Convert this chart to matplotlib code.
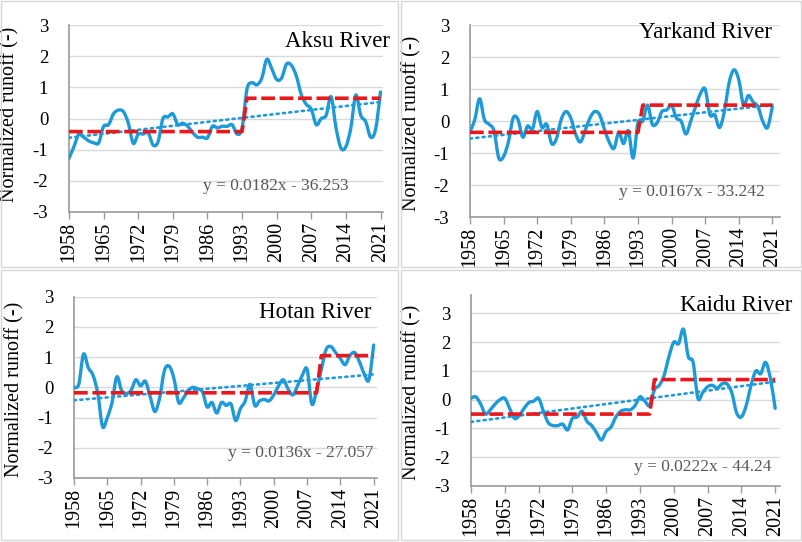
import numpy as np
import matplotlib
matplotlib.use('Agg')
import matplotlib.pyplot as plt
from matplotlib.path import Path
from matplotlib.patches import PathPatch, Rectangle

# annual normalized runoff, 1958-2021
years = np.arange(1958, 2022)

aksu = [-1.28, -0.9, -0.5, -0.6, -0.72, -0.78, -0.78, -0.25, -0.2, 0.15,
        0.27, 0.22, -0.15, -0.8, -0.5, -0.5, -0.45, -0.85, -0.75, 0.0,
        0.05, 0.15, -0.2, -0.15, -0.25, -0.45, -0.6, -0.6, -0.62, -0.25,
        -0.3, -0.25, -0.25, -0.2, -0.5, -0.3, 0.95, 1.15, 1.08, 1.3,
        1.9, 1.6, 1.25, 1.3, 1.75, 1.7, 1.35, 0.75, 0.45, 0.3,
        -0.2, 0.0, 0.1, 0.7, -0.3, -0.95, -0.9, -0.3, 0.75, 0.1,
        -0.1, -0.6, -0.35, 0.85]

yarkand = [-0.33, 0.05, 0.7, 0.05, -0.1, -0.3, -1.15, -1.1, -0.65, 0.1,
           0.05, -0.5, -0.15, -0.25, 0.3, -0.2, -0.1, -0.7, -0.55, 0.05,
           0.3, 0.1, -0.4, -0.65, -0.3, 0.1, 0.3, 0.2, -0.25, -0.65,
           -0.85, -0.35, -0.7, -0.3, -1.15, -0.05, 0.0, 0.5, -0.1, -0.05,
           0.3, 0.35, 0.5, 0.1, 0.0, -0.4, 0.0, 0.45, 0.85, 1.0,
           0.2, 0.2, -0.2, 0.3, 1.2, 1.6, 1.3, 0.5, 0.8, 0.6,
           0.45, 0.0, -0.2, 0.45]

hotan = [0.0, 0.1, 1.1, 0.65, 0.4, -0.2, -1.3, -1.0, -0.5, 0.35,
         -0.1, -0.2, -0.1, 0.25, 0.05, 0.2, -0.3, -0.8, -0.35, 0.55,
         0.7, 0.3, -0.5, -0.35, -0.1, 0.0, -0.05, -0.15, -0.65, -0.5,
         -0.85, -0.5, -0.6, -0.55, -1.1, -0.7, -0.45, 0.1, -0.6, -0.45,
         -0.4, -0.45, -0.25, 0.05, 0.25, -0.05, -0.25, 0.05, 0.4, 0.6,
         -0.55, -0.1, 0.6, 1.25, 1.35, 1.15, 0.95, 0.75, 1.05, 1.15,
         0.85, 0.45, 0.25, 1.4]

kaidu = [0.05, 0.1, -0.15, -0.5, -0.35, -0.15, 0.0, 0.05, -0.3, -0.65,
         -0.55, -0.3, -0.1, -0.05, 0.05, -0.4, -0.8, -0.9, -0.9, -0.85,
         -1.05, -0.65, -0.6, -0.4, -0.75, -0.9, -1.15, -1.4, -1.1, -0.95,
         -0.6, -0.4, -0.35, -0.35, -0.2, 0.1, -0.05, -0.2, 0.35, 0.5,
         0.85, 1.5, 2.0, 1.95, 2.45, 1.5, 1.3, 0.05, 0.25, 0.45,
         0.5, 0.4, 0.55, 0.55, 0.25, -0.45, -0.6, -0.2, 0.5, 1.0,
         0.9, 1.3, 0.75, -0.3]

names = ['Aksu River', 'Yarkand River', 'Hotan River', 'Kaidu River']
series = [aksu, yarkand, hotan, kaidu]

# mean shift: last year of first period, mean before, mean after
shift_year = [1993, 1993, 2009, 1995]
mean_before = [-0.42, -0.35, -0.18, -0.5]
mean_after = [0.65, 0.5, 1.05, 0.7]

# linear trend y = a*x + b
slope = [0.0182, 0.0167, 0.0136, 0.0222]
intercept = [-36.253, -33.242, -27.057, -44.24]
eq_labels = ['y = 0.0182x - 36.253', 'y = 0.0167x - 33.242',
             'y = 0.0136x - 27.057', 'y = 0.0222x - 44.24']

year_ticks = [1958, 1965, 1972, 1979, 1986, 1993, 2000, 2007, 2014, 2021]
y_ticks = [-3, -2, -1, 0, 1, 2, 3]

plt.rcParams['font.family'] = ['Liberation Serif', 'DejaVu Serif']

W, H = 803, 542
fig = plt.figure(figsize=(W / 100, H / 100), dpi=100)

# panel frames (pixels: x0, y0, x1, y1)
for x0, y0, x1, y1 in [(1, 1, 398, 267), (401, 1, 801, 267),
                       (1, 270, 398, 540), (401, 270, 801, 540)]:
    fig.add_artist(Rectangle((x0 / W, 1 - y1 / H), (x1 - x0) / W, (y1 - y0) / H,
                             transform=fig.transFigure, fill=False,
                             ec='#d6d6d6', lw=1.0))

# axes boxes in pixels: left, right, top, bottom
boxes = [(69, 383, 25, 212), (470, 780, 25, 217.3),
         (74, 377, 296.7, 478), (471, 780, 295, 486)]
ytops = [3, 3, 3, 3.64]
xrights = [2021.5, 2022.6, 2021.7, 2022.0]
title_pos = [(1.022, 0.912), (0.974, 0.962), (0.983, 0.912), (1.041, 0.945)]
ylabel_pos = [(-0.159, 0.52), (-0.155, 0.49), (-0.165, 0.49), (-0.159, 0.49)]
eq_pos = [(2014.5, -2.16), (2019.5, -2.2), (2021.0, -2.17), (2020.2, -2.33)]

blue = '#1f9ad8'
red = '#e8181c'


def smooth_path(x, y):
    # Excel-like smoothed line (Catmull-Rom as cubic Bezier)
    n = len(x)
    verts = [(x[0], y[0])]
    codes = [Path.MOVETO]
    for i in range(n - 1):
        p0 = max(i - 1, 0)
        p3 = min(i + 2, n - 1)
        c1 = (x[i] + (x[i + 1] - x[p0]) / 6, y[i] + (y[i + 1] - y[p0]) / 6)
        c2 = (x[i + 1] - (x[p3] - x[i]) / 6, y[i + 1] - (y[p3] - y[i]) / 6)
        verts += [c1, c2, (x[i + 1], y[i + 1])]
        codes += [Path.CURVE4] * 3
    return Path(verts, codes)


for k in range(4):
    l, r, t, b = boxes[k]
    ax = fig.add_axes([l / W, 1 - b / H, (r - l) / W, (b - t) / H])
    vals = np.array(series[k])

    ax.add_patch(PathPatch(smooth_path(years, vals), fill=False, ec=blue,
                           lw=2.4, capstyle='round', joinstyle='round', zorder=3))

    tx = np.array([years[0], years[-1]])
    ax.plot(tx, slope[k] * tx + intercept[k], color=blue, lw=1.9,
            linestyle=(0, (0.8, 1.6)), dash_capstyle='round', zorder=4)

    step = np.where(years <= shift_year[k], mean_before[k], mean_after[k])
    ax.plot(years, step, color=red, lw=2.6, linestyle=(0, (3.8, 1.3)), zorder=5)

    ax.set_xlim(1958, xrights[k])
    ax.set_ylim(-3, ytops[k])
    ax.set_yticks(y_ticks)
    ax.set_yticklabels([str(v) for v in y_ticks])
    ax.set_xticks(year_ticks)
    ax.set_xticklabels([str(v) for v in year_ticks], rotation=90)
    ax.tick_params(axis='y', length=0, pad=15, labelsize=13.5)
    ax.tick_params(axis='x', length=5, width=1.0, color='#9a9a9a', pad=2,
                   labelsize=14.5)
    ax.grid(axis='y', color='#d9d9d9', lw=1.0, zorder=0)
    ax.set_axisbelow(True)
    for s in ['top', 'right']:
        ax.spines[s].set_visible(False)
    for s in ['left', 'bottom']:
        ax.spines[s].set_color('#9a9a9a')
        ax.spines[s].set_linewidth(1.2)

    ax.set_ylabel('Normalized runoff (-)', fontsize=14.5)
    ax.yaxis.set_label_coords(*ylabel_pos[k])

    ax.text(title_pos[k][0], title_pos[k][1], names[k], transform=ax.transAxes,
            ha='right', va='center', fontsize=16.5, clip_on=False)
    ax.text(eq_pos[k][0], eq_pos[k][1], eq_labels[k], ha='right', va='center',
            fontsize=12.5, color='#595959')

fig.savefig('out.png', dpi=100)
